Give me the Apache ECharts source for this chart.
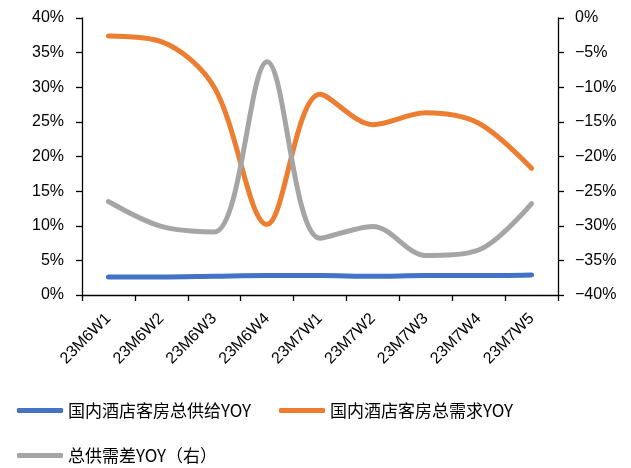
<!DOCTYPE html>
<html>
<head>
<meta charset="utf-8">
<script src="https://cdn.jsdelivr.net/npm/echarts@6/dist/echarts.min.js"></script>
<style>
  html, body { margin: 0; padding: 0; background: #fff; }
  #chart { width: 631px; height: 468px; }
</style>
</head>
<body>
<div id="chart"></div>
<script>
// Weekly hotel room supply / demand YOY
const categories = ['23M6W1', '23M6W2', '23M6W3', '23M6W4', '23M7W1', '23M7W2', '23M7W3', '23M7W4', '23M7W5'];
const supplyYoy = [2.6, 2.6, 2.7, 2.8, 2.8, 2.7, 2.8, 2.8, 2.9];
const demandYoy = [37.4, 36.6, 30.0, 10.2, 29.0, 24.6, 26.3, 24.8, 18.3];
const gapYoy = [-26.5, -30.1, -30.9, -6.3, -31.8, -30.1, -34.3, -33.5, -26.8];

const nameSupply = '国内酒店客房总供给YOY';
const nameDemand = '国内酒店客房总需求YOY';
const nameGap = '总供需差YOY（右）';

const colors = ['#4472C4', '#ED7D31', '#A5A5A5'];
const latin = 'Liberation Sans, Arial, sans-serif';
const cjk = 'Noto Sans CJK SC, sans-serif';

const pct = v => (v < 0 ? '\u2212' + Math.abs(v) : v) + '%';

const legendBase = {
  icon: 'roundRect',
  itemWidth: 46,
  itemHeight: 5,
  itemGap: 0,
  textStyle: { fontFamily: cjk, fontSize: 17, color: '#000', padding: [0, 0, 0, 0] }
};

const axisLineStyle = { show: true, lineStyle: { color: '#000', width: 1.3 } };
const smoothness = 0.33;

const chart = echarts.init(document.getElementById('chart'), null, { renderer: 'canvas' });
chart.setOption({
  animation: false,
  color: colors,
  grid: { left: 82, right: 73, top: 18, bottom: 173 },
  legend: [
    Object.assign({}, legendBase, { data: [nameSupply], left: 12, top: 397 }),
    Object.assign({}, legendBase, { data: [nameDemand], left: 274, top: 397 }),
    Object.assign({}, legendBase, { data: [nameGap], left: 12, top: 442 })
  ],
  xAxis: {
    type: 'category',
    data: categories,
    boundaryGap: true,
    axisLine: axisLineStyle,
    axisTick: { show: true, length: 6, lineStyle: { color: '#000', width: 1.3 } },
    axisLabel: { rotate: 45, margin: 21, fontFamily: latin, fontSize: 16, color: '#000', interval: 0 },
    splitLine: { show: false }
  },
  yAxis: [
    {
      type: 'value', min: 0, max: 40, interval: 5, position: 'left',
      axisLine: axisLineStyle,
      axisTick: { show: true, length: 6, lineStyle: { color: '#000', width: 1.3 } },
      axisLabel: { formatter: pct, margin: 18, fontFamily: latin, fontSize: 16, color: '#000' },
      splitLine: { show: false }
    },
    {
      type: 'value', min: -40, max: 0, interval: 5, position: 'right',
      axisLine: axisLineStyle,
      axisTick: { show: true, length: 6, lineStyle: { color: '#000', width: 1.3 } },
      axisLabel: { formatter: pct, margin: 17, fontFamily: latin, fontSize: 16, color: '#000' },
      splitLine: { show: false }
    }
  ],
  series: [
    {
      name: nameSupply, type: 'line', yAxisIndex: 0, data: supplyYoy, smooth: smoothness,
      showSymbol: false, lineStyle: { width: 5, cap: 'round' }
    },
    {
      name: nameDemand, type: 'line', yAxisIndex: 0, data: demandYoy, smooth: smoothness,
      showSymbol: false, lineStyle: { width: 5, cap: 'round' }
    },
    {
      name: nameGap, type: 'line', yAxisIndex: 1, data: gapYoy, smooth: smoothness,
      showSymbol: false, lineStyle: { width: 5, cap: 'round' }
    }
  ]
});
</script>
</body>
</html>
